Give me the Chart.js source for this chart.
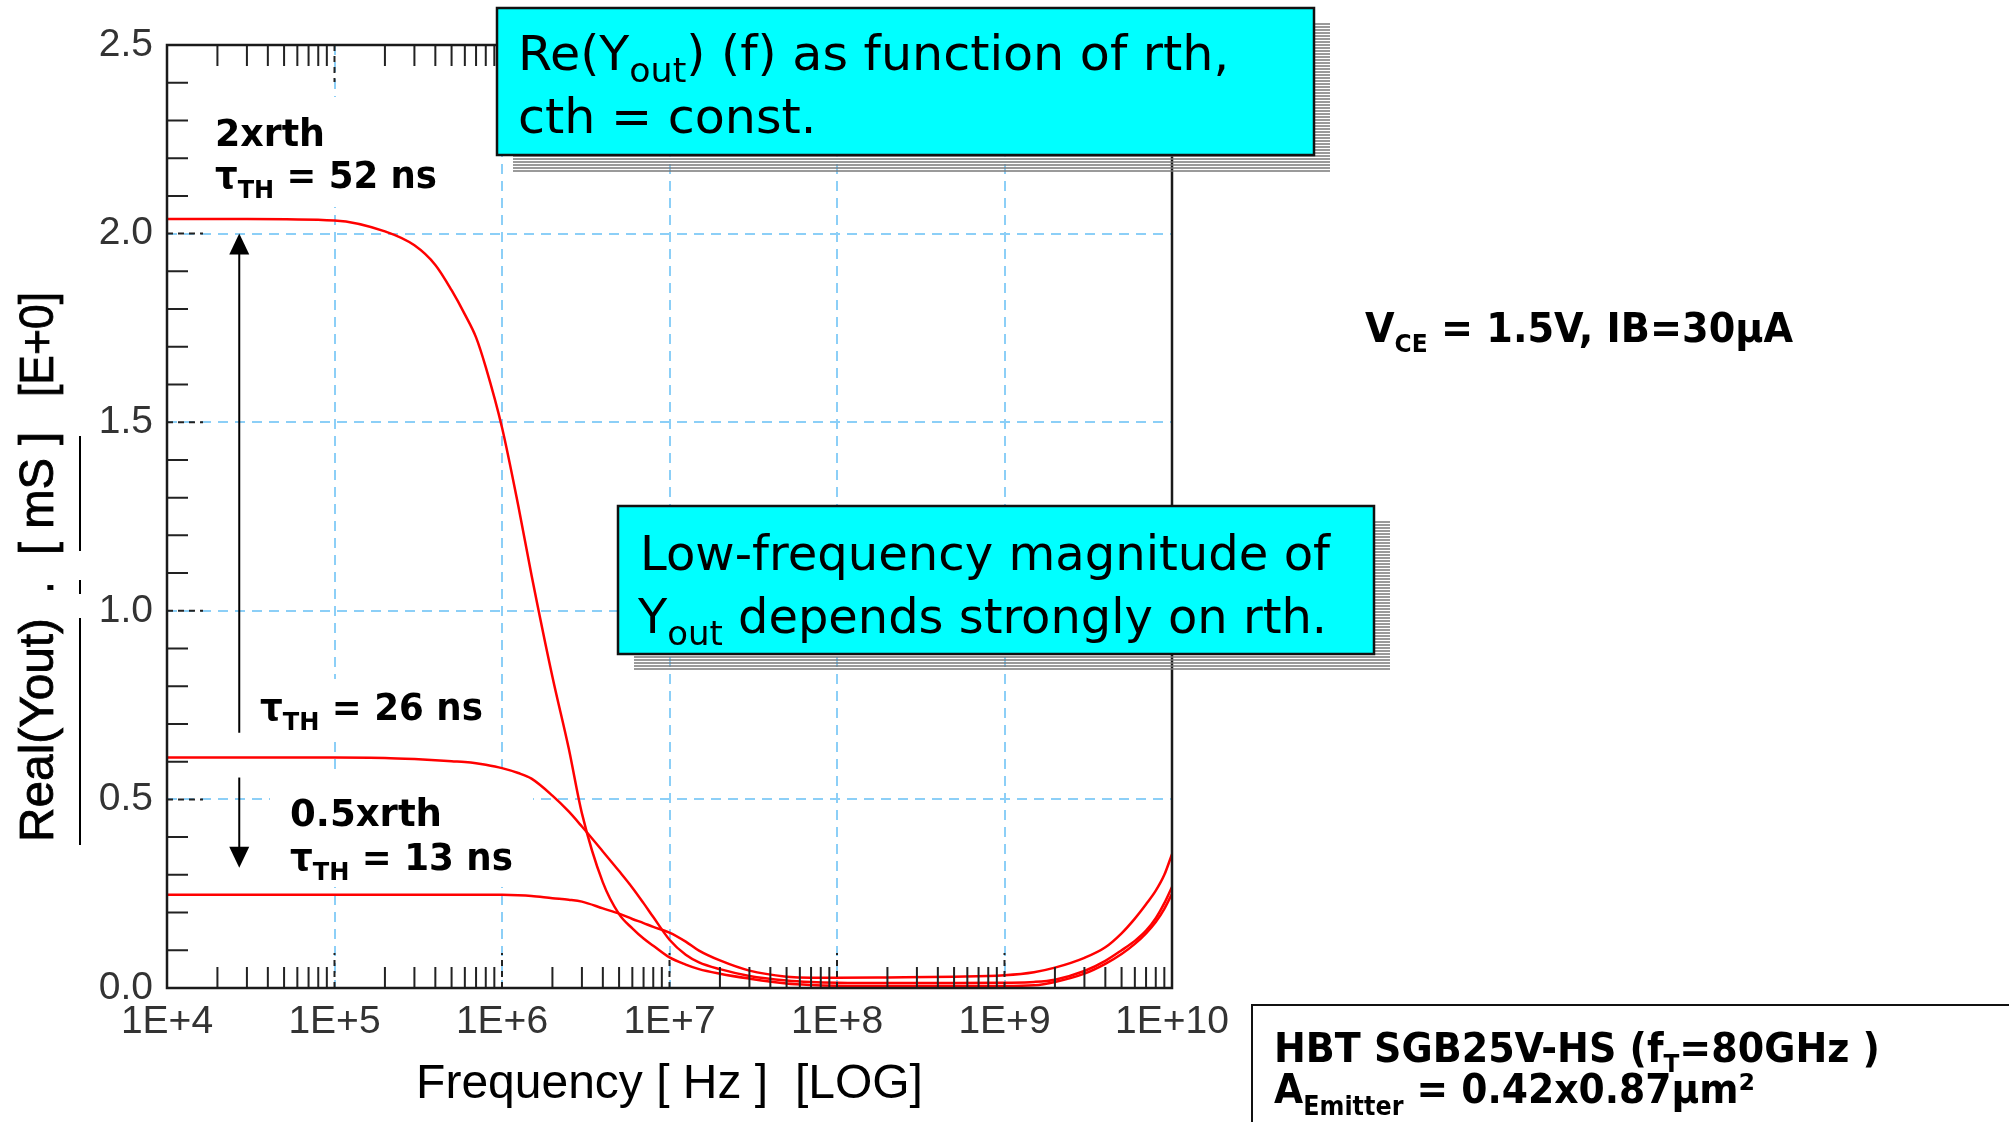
<!DOCTYPE html>
<html><head><meta charset="utf-8">
<script src="https://cdn.jsdelivr.net/npm/chart.js@4.4.0/dist/chart.umd.min.js"></script>
<style>html,body{margin:0;padding:0;background:#fff;overflow:hidden}canvas{display:block}</style>
</head><body>
<canvas id="c" width="2009" height="1122"></canvas>
<script>
// ---------- data ----------
const freqHz = [1e4,3e4,1e5,2e5,3e5,4e5,5e5,6e5,7e5,8e5,1e6,1.25e6,1.5e6,2e6,2.5e6,3e6,4e6,5e6,6e6,7e6,8e6,1e7,1.25e7,1.5e7,2e7,3e7,5e7,7e7,1e8,2e8,5e8,1e9,1.5e9,2e9,3e9,4e9,5e9,6e9,7e9,8e9,9e9,1e10];
const re2xrth = [2.039,2.039,2.035,2.006,1.969,1.917,1.85,1.786,1.725,1.646,1.486,1.279,1.095,0.825,0.636,0.463,0.28,0.196,0.158,0.131,0.112,0.081,0.062,0.05,0.038,0.025,0.012,0.008,0.006,0.005,0.005,0.005,0.007,0.016,0.038,0.064,0.09,0.117,0.145,0.175,0.21,0.25];
const re1xrth = [0.611,0.611,0.611,0.61,0.607,0.604,0.601,0.599,0.596,0.592,0.583,0.570,0.555,0.51,0.468,0.428,0.362,0.31,0.266,0.225,0.188,0.128,0.088,0.068,0.05,0.032,0.02,0.016,0.014,0.013,0.013,0.014,0.016,0.022,0.045,0.072,0.1,0.125,0.152,0.185,0.225,0.268];
const re05xrth = [0.247,0.247,0.247,0.247,0.247,0.247,0.247,0.247,0.247,0.247,0.247,0.246,0.244,0.238,0.234,0.229,0.211,0.197,0.183,0.172,0.162,0.147,0.123,0.099,0.073,0.046,0.03,0.027,0.027,0.028,0.03,0.034,0.042,0.054,0.08,0.108,0.145,0.184,0.222,0.258,0.3,0.355];
const xTickValues = [1e4,1e5,1e6,1e7,1e8,1e9,1e10];
const xTickLabels = ['1E+4','1E+5','1E+6','1E+7','1E+8','1E+9','1E+10'];
const yTickValues = [0,0.5,1.0,1.5,2.0,2.5];
const yTickLabels = ['0.0','0.5','1.0','1.5','2.0','2.5'];

// ---------- styling / layout ----------
const RED = '#ff0000';
const GRID = '#8ccff7';
const TICKFONT = 'Liberation Sans';
const BOXFONT = 'DejaVu Sans';

function fnt(w, s, fam){ return `${w} ${s}px "${fam}"`; }
function runsWidth(ctx, runs){ let w=0; for(const r of runs){ ctx.font=r.f; w+=ctx.measureText(r.t).width; } return w; }
function drawRuns(ctx, runs, x, y, targetW, sxFixed, strokeW){
  const nat = runsWidth(ctx, runs);
  const sx = sxFixed || (targetW ? targetW/nat : 1);
  ctx.save(); ctx.translate(x,y); ctx.scale(sx,1);
  ctx.textAlign='left'; ctx.textBaseline='alphabetic'; ctx.fillStyle='#000'; ctx.strokeStyle='#000';
  let cx=0;
  for(const r of runs){
    ctx.font=r.f; ctx.fillText(r.t, cx, r.dy||0);
    if(strokeW){ ctx.lineWidth=strokeW; ctx.strokeText(r.t, cx, r.dy||0); }
    cx+=ctx.measureText(r.t).width;
  }
  ctx.restore();
  return sx;
}
function shadowBox(ctx, x, y, w, h, off){
  ctx.save();
  ctx.strokeStyle='#7a7a7a'; ctx.lineWidth=1.6;
  ctx.beginPath();
  for(let yy=y+off; yy<=y+h+off; yy+=3){
    if(yy < y+h){ ctx.moveTo(x+w, yy); ctx.lineTo(x+w+off, yy); }
    else { ctx.moveTo(x+off, yy); ctx.lineTo(x+w+off, yy); }
  }
  ctx.stroke();
  ctx.fillStyle='#00ffff'; ctx.fillRect(x,y,w,h);
  ctx.strokeStyle='#111'; ctx.lineWidth=2.5; ctx.strokeRect(x,y,w,h);
  ctx.restore();
}
function arrow(ctx, x, y0, y1){
  const dir = Math.sign(y1-y0);
  ctx.save(); ctx.strokeStyle='#000'; ctx.fillStyle='#000'; ctx.lineWidth=2;
  ctx.beginPath(); ctx.moveTo(x,y0); ctx.lineTo(x,y1-dir*18); ctx.stroke();
  ctx.beginPath(); ctx.moveTo(x,y1); ctx.lineTo(x-10,y1-dir*21); ctx.lineTo(x+10,y1-dir*21); ctx.closePath(); ctx.fill();
  ctx.restore();
}

const labelBackgrounds = [[205,97,447,207],[250,679,497,741],[270,776,533,887]];

const annot = {
  id:'annot',
  beforeDatasetsDraw(chart){
    const ctx=chart.ctx; ctx.save(); ctx.fillStyle='#fff';
    for(const r of labelBackgrounds) ctx.fillRect(r[0],r[1],r[2]-r[0],r[3]-r[1]);
    ctx.restore();
  },
  afterDatasetsDraw(chart){
    const ctx=chart.ctx, xs=chart.scales.x, ys=chart.scales.y;
    const {left,right,top,bottom}=chart.chartArea;
    ctx.save();
    // minor ticks (inward)
    ctx.strokeStyle='#222'; ctx.lineWidth=2; ctx.beginPath();
    for(let d=4; d<10; d++) for(let m=2; m<=9; m++){
      const px=xs.getPixelForValue(m*Math.pow(10,d));
      ctx.moveTo(px,bottom); ctx.lineTo(px,bottom-21);
      ctx.moveTo(px,top); ctx.lineTo(px,top+21);
    }
    for(let k=1;k<25;k++){ if(k%5===0) continue; const py=ys.getPixelForValue(k/10); ctx.moveTo(left,py); ctx.lineTo(left+21,py); }
    ctx.stroke();
    // major ticks (dashed black)
    ctx.setLineDash([6,5]); ctx.beginPath();
    for(let d=5; d<10; d++){ const px=xs.getPixelForValue(Math.pow(10,d)); ctx.moveTo(px,bottom); ctx.lineTo(px,bottom-35); ctx.moveTo(px,top); ctx.lineTo(px,top+37); }
    for(const v of [0.5,1,1.5,2]){ const py=ys.getPixelForValue(v); ctx.moveTo(left,py); ctx.lineTo(left+36,py); }
    ctx.stroke(); ctx.setLineDash([]);
    // frame
    ctx.lineWidth=2.5; ctx.strokeStyle='#1a1a1a'; ctx.strokeRect(left,top,right-left,bottom-top);
    ctx.restore();

    // y axis title (rotated, underlined pieces)
    ctx.save();
    const yt = [ ['Real(Yout)',842,224], ['.',594,13], ['[ mS ]',555,123], ['[E+0]',397,105] ];
    for(const [t,y0,w] of yt){
      ctx.save(); ctx.translate(53,y0); ctx.rotate(-Math.PI/2);
      drawRuns(ctx,[{t,f:fnt('normal',48,TICKFONT)}],0,0,w,0,0.8);
      ctx.restore();
    }
    ctx.strokeStyle='#000'; ctx.lineWidth=2; ctx.beginPath();
    ctx.moveTo(80,845); ctx.lineTo(80,618);
    ctx.moveTo(80,594); ctx.lineTo(80,580);
    ctx.moveTo(80,551); ctx.lineTo(80,436);
    ctx.stroke();
    ctx.restore();

    // in-plot labels
    const B = s => fnt('bold', s, BOXFONT);
    drawRuns(ctx,[{t:'2xrth',f:B(37)}],215,146,110);
    drawRuns(ctx,[{t:'τ',f:B(37)},{t:'TH',f:B(25),dy:10},{t:' = 52 ns',f:B(37)}],215,188,222);
    drawRuns(ctx,[{t:'τ',f:B(37)},{t:'TH',f:B(25),dy:10},{t:' = 26 ns',f:B(37)}],260,720,223);
    drawRuns(ctx,[{t:'0.5xrth',f:B(37)}],290,826,152);
    drawRuns(ctx,[{t:'τ',f:B(37)},{t:'TH',f:B(25),dy:10},{t:' = 13 ns',f:B(37)}],290,870,223);

    // arrows (anchored on the scales)
    const ax = xs.getPixelForValue(2.7e4);
    arrow(ctx, ax, ys.getPixelForValue(0.677), ys.getPixelForValue(2.0));
    arrow(ctx, ax, ys.getPixelForValue(0.558), ys.getPixelForValue(0.319));

    // cyan boxes
    const N = s => fnt('normal', s, BOXFONT);
    shadowBox(ctx,497,8,817,147,16);
    const sx1 = drawRuns(ctx,[{t:'Re(Y',f:N(48)},{t:'out',f:N(34),dy:12},{t:') (f) as function of rth,',f:N(48)}],518,70,711);
    drawRuns(ctx,[{t:'cth = const.',f:N(48)}],518,133,0,sx1);
    shadowBox(ctx,618,506,756,148,16);
    drawRuns(ctx,[{t:'Low-frequency magnitude of',f:N(48)}],640,570,690);
    drawRuns(ctx,[{t:'Y',f:N(48)},{t:'out',f:N(34),dy:12},{t:' depends strongly on rth.',f:N(48)}],638,633,689);

    // right side texts
    drawRuns(ctx,[{t:'V',f:B(41)},{t:'CE',f:B(25),dy:10},{t:' = 1.5V, IB=30µA',f:B(41)}],1365,342,428);
    ctx.save(); ctx.strokeStyle='#111'; ctx.lineWidth=2; ctx.beginPath();
    ctx.moveTo(1252,1122); ctx.lineTo(1252,1005); ctx.lineTo(2009,1005); ctx.stroke(); ctx.restore();
    drawRuns(ctx,[{t:'HBT SGB25V-HS (f',f:B(41)},{t:'T',f:B(25),dy:10},{t:'=80GHz )',f:B(41)}],1274,1062,606);
    drawRuns(ctx,[{t:'A',f:B(41)},{t:'Emitter',f:B(26),dy:12},{t:' = 0.42x0.87µm²',f:B(41)}],1274,1103,481);
  }
};

const mk = (arr) => freqHz.map((f,i)=>({x:f,y:arr[i]}));
const ds = (label, arr) => ({label, data:mk(arr), borderColor:RED, backgroundColor:RED, borderWidth:2.5, pointRadius:0, cubicInterpolationMode:'monotone', fill:false});

new Chart(document.getElementById('c'), {
  type:'line',
  data:{ datasets:[ ds('2xrth, τTH = 52 ns', re2xrth), ds('τTH = 26 ns', re1xrth), ds('0.5xrth, τTH = 13 ns', re05xrth) ] },
  options:{
    responsive:false, animation:false, devicePixelRatio:1,
    layout:{padding:{top:45,right:837,left:0,bottom:0}},
    plugins:{legend:{display:false}, tooltip:{enabled:false}},
    scales:{
      x:{
        type:'logarithmic', min:1e4, max:1e10, position:'bottom',
        afterBuildTicks:s=>{ s.ticks = xTickValues.map(v=>({value:v})); },
        afterFit:s=>{ s.height=134; },
        ticks:{autoSkip:false, maxRotation:0, minRotation:0, padding:11, color:'#333', font:{size:39, family:TICKFONT}, callback:(v,i)=>xTickLabels[i]},
        grid:{drawTicks:false, lineWidth:2, color:c=>(c.tick && (c.tick.value===1e4||c.tick.value===1e10))?'rgba(0,0,0,0)':GRID},
        border:{display:false, dash:[10,7]},
        title:{display:true, text:'Frequency [ Hz ]  [LOG]', color:'#000', font:{size:48, family:TICKFONT}, padding:{top:0,bottom:8}}
      },
      y:{
        type:'linear', min:0, max:2.5,
        afterBuildTicks:s=>{ s.ticks = yTickValues.map(v=>({value:v})); },
        afterFit:s=>{ s.width=167; },
        ticks:{padding:14, color:'#333', font:{size:39, family:TICKFONT}, callback:(v,i)=>yTickLabels[i]},
        grid:{drawTicks:false, lineWidth:2, color:c=>(c.tick && (c.tick.value===0||c.tick.value===2.5))?'rgba(0,0,0,0)':GRID},
        border:{display:false, dash:[10,7]}
      }
    }
  },
  plugins:[annot]
});
</script>
</body></html>
